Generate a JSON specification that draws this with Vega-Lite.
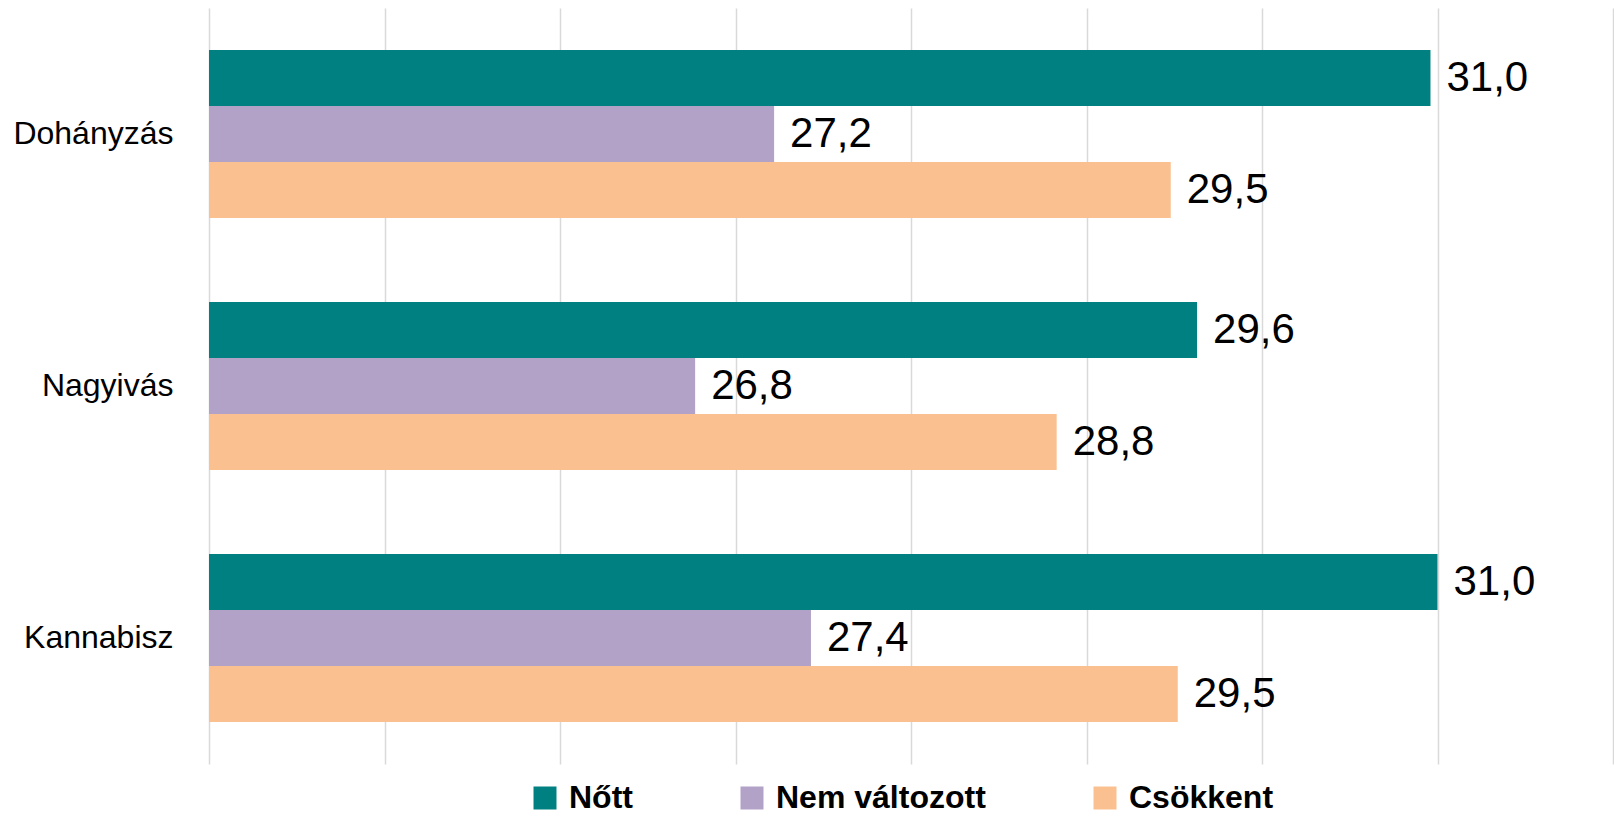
{
  "$schema": "https://vega.github.io/schema/vega-lite/v6.json",
  "width": 1404,
  "height": 756,
  "autosize": {"type": "none"},
  "padding": {"left": 209, "top": 8, "right": 1, "bottom": 53},
  "background": "white",
  "config": {
    "view": {"stroke": null},
    "locale": {"number": {"decimal": ",", "thousands": " ", "grouping": [3], "currency": ["", ""]}},
    "font": "Liberation Sans"
  },
  "data": {
    "values": [
      {"kategoria": "Dohányzás", "valtozas": "Nőtt", "ertek": 30.96},
      {"kategoria": "Dohányzás", "valtozas": "Nem változott", "ertek": 27.22},
      {"kategoria": "Dohányzás", "valtozas": "Csökkent", "ertek": 29.48},
      {"kategoria": "Nagyivás", "valtozas": "Nőtt", "ertek": 29.63},
      {"kategoria": "Nagyivás", "valtozas": "Nem változott", "ertek": 26.77},
      {"kategoria": "Nagyivás", "valtozas": "Csökkent", "ertek": 28.83},
      {"kategoria": "Kannabisz", "valtozas": "Nőtt", "ertek": 31.0},
      {"kategoria": "Kannabisz", "valtozas": "Nem változott", "ertek": 27.43},
      {"kategoria": "Kannabisz", "valtozas": "Csökkent", "ertek": 29.52}
    ]
  },
  "encoding": {
    "y": {
      "field": "kategoria",
      "type": "nominal",
      "sort": ["Dohányzás", "Nagyivás", "Kannabisz"],
      "scale": {"paddingInner": 0.3333, "paddingOuter": 0.1667},
      "axis": {
        "title": null,
        "ticks": false,
        "domain": false,
        "labelFontSize": 32,
        "labelFont": "Liberation Sans",
        "labelColor": "#000000",
        "labelPadding": 36,
        "labelLimit": 400
      }
    },
    "yOffset": {
      "field": "valtozas",
      "type": "nominal",
      "sort": ["Nőtt", "Nem változott", "Csökkent"],
      "scale": {"paddingInner": 0, "paddingOuter": 0}
    },
    "x": {
      "field": "ertek",
      "type": "quantitative",
      "scale": {"domain": [24, 32], "zero": false, "nice": false},
      "axis": {
        "title": null,
        "labels": false,
        "ticks": false,
        "domain": false,
        "grid": true,
        "values": [24, 25, 26, 27, 28, 29, 30, 31, 32],
        "gridColor": "#d9d9d9",
        "gridWidth": 1.5
      }
    }
  },
  "layer": [
    {
      "mark": {"type": "bar"},
      "encoding": {
        "x2": {"datum": 24},
        "color": {
          "field": "valtozas",
          "type": "nominal",
          "sort": ["Nőtt", "Nem változott", "Csökkent"],
          "scale": {
            "domain": ["Nőtt", "Nem változott", "Csökkent"],
            "range": ["#008080", "#b3a2c7", "#fac090"]
          },
          "legend": {
            "title": null,
            "orient": "none",
            "legendX": 320,
            "legendY": 774,
            "direction": "horizontal",
            "symbolType": "square",
            "symbolSize": 529,
            "symbolStrokeWidth": 0,
            "labelFontSize": 32,
            "labelFontWeight": "bold",
            "labelFont": "Liberation Sans",
            "labelColor": "#000000",
            "labelOffset": 8,
            "columnPadding": 103,
            "labelLimit": 500
          }
        }
      }
    },
    {
      "mark": {"type": "text", "align": "left", "baseline": "middle", "dx": 16, "fontSize": 42, "font": "Liberation Sans", "color": "#000000"},
      "encoding": {
        "text": {"field": "ertek", "type": "quantitative", "format": ".1f"}
      }
    }
  ]
}
